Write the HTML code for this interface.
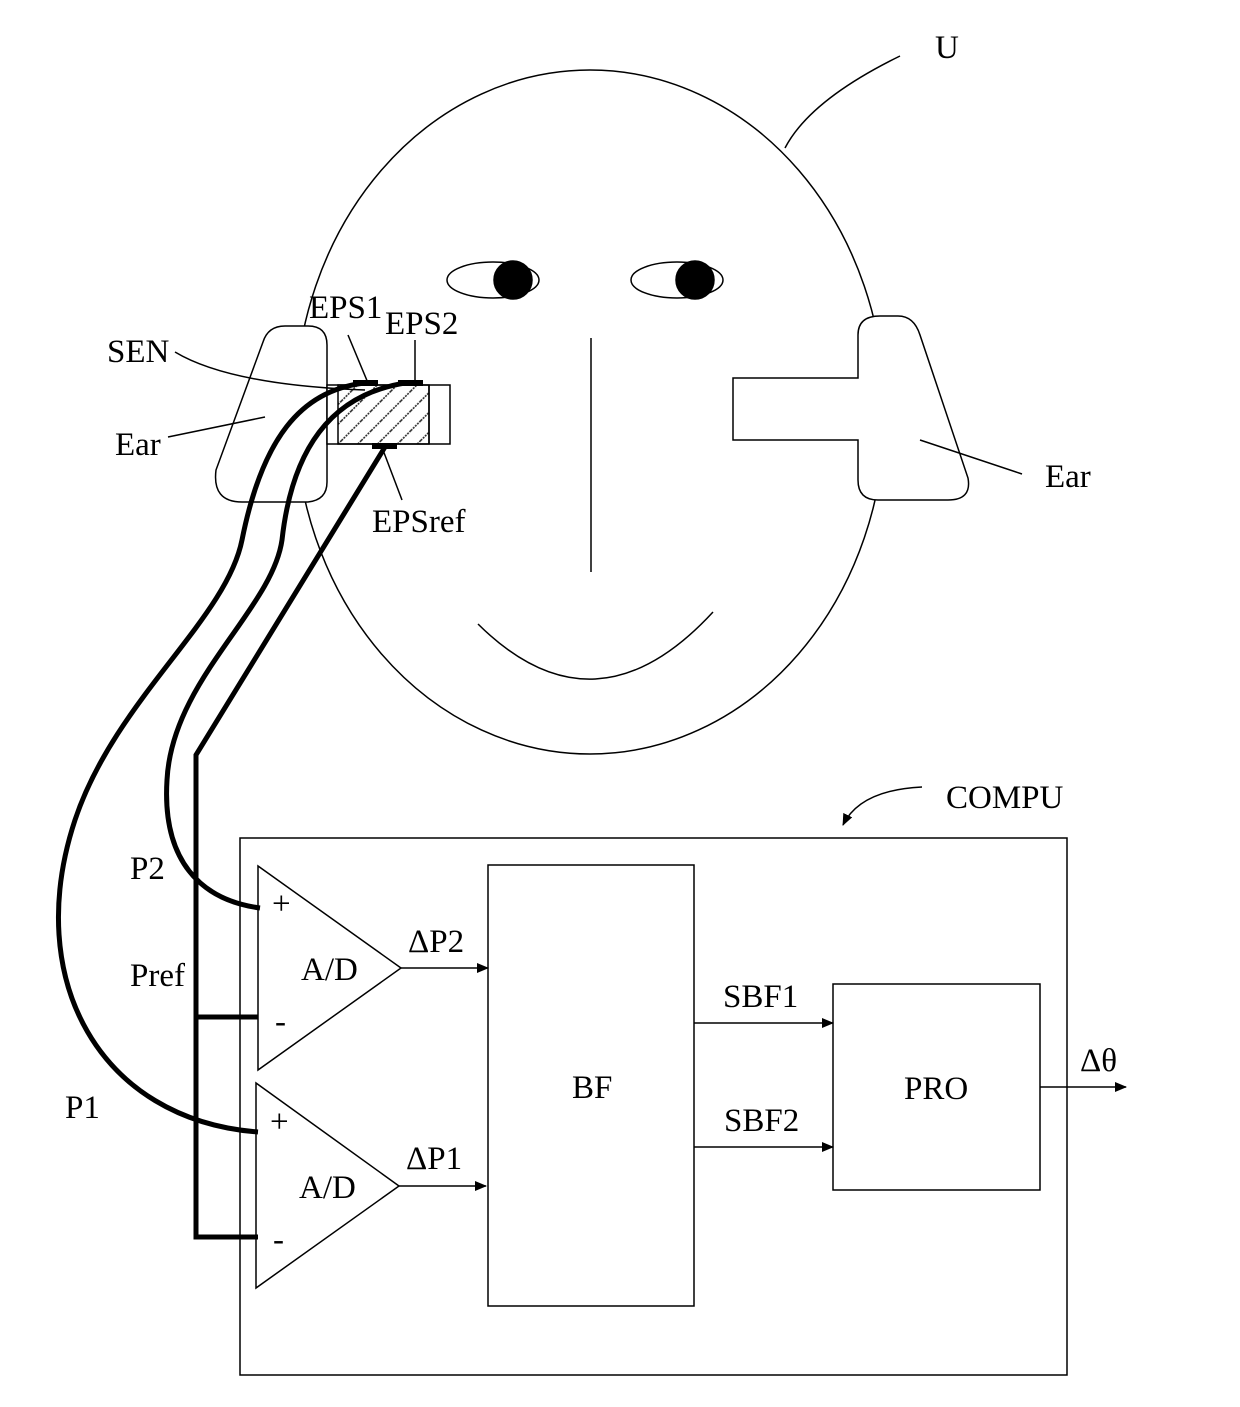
<!DOCTYPE html>
<html><head><meta charset="utf-8"><style>html,body{margin:0;padding:0;background:#fff}svg{display:block}text{font-family:"Liberation Serif",serif;font-size:33px;fill:#000}</style></head>
<body>
<svg width="1240" height="1407" viewBox="0 0 1240 1407" xmlns="http://www.w3.org/2000/svg">
<defs>
<marker id="ar" markerWidth="12" markerHeight="10" refX="11" refY="5" orient="auto" markerUnits="userSpaceOnUse"><path d="M0,0 L12,5 L0,10 Z" fill="#000"/></marker>
<pattern id="hatch" width="14" height="14" patternUnits="userSpaceOnUse" patternTransform="rotate(-45)"><line x1="0" y1="7" x2="14" y2="7" stroke="#222" stroke-width="1.6" stroke-dasharray="2,1"/></pattern>
</defs>
<g fill="none" stroke="#000" stroke-width="1.5">
<ellipse cx="590" cy="412" rx="295" ry="342" fill="#fff"/>
<ellipse cx="493" cy="280" rx="46" ry="18"/>
<circle cx="513" cy="280" r="19" fill="#000"/>
<ellipse cx="677" cy="280" rx="46" ry="18"/>
<circle cx="695" cy="280" r="19" fill="#000"/>
<line x1="591" y1="338" x2="591" y2="572"/>
<path d="M478 624 Q595 740 713 612"/>
<path d="M900 56 Q810 100 785 148"/>
<path d="M327 385 L327 345 Q327 326 308 326 L285 326 Q268 326 263 342 L216 470 Q212 502 242 502 L308 502 Q327 500 327 482 L327 444 Z" fill="#fff"/>
<rect x="327" y="385" width="123" height="59" fill="#fff"/>
<rect x="338" y="385" width="91" height="59" fill="url(#hatch)"/>
<line x1="429" y1="385" x2="429" y2="444"/>
<path d="M858 378 L858 335 Q858 316 880 316 L898 316 Q914 316 920 335 L968 478 Q972 500 948 500 L878 500 Q858 500 858 480 L858 440 L733 440 L733 378 Z" fill="#fff"/>
<path d="M175 352 Q230 385 365 390"/>
<line x1="168" y1="437" x2="265" y2="417"/>
<line x1="348" y1="335" x2="368" y2="383"/>
<line x1="415" y1="340" x2="415" y2="383"/>
<line x1="383" y1="450" x2="402" y2="500"/>
<line x1="920" y1="440" x2="1022" y2="474"/>
<rect x="240" y="838" width="827" height="537"/>
<path d="M922 787 Q860 790 843 825" marker-end="url(#ar)"/>
<path d="M258 866 L258 1070 L401 968 Z"/>
<path d="M256 1083 L256 1288 L399 1186 Z"/>
<rect x="488" y="865" width="206" height="441"/>
<rect x="833" y="984" width="207" height="206"/>
<line x1="401" y1="968" x2="488" y2="968" marker-end="url(#ar)"/>
<line x1="399" y1="1186" x2="486" y2="1186" marker-end="url(#ar)"/>
<line x1="694" y1="1023" x2="833" y2="1023" marker-end="url(#ar)"/>
<line x1="694" y1="1147" x2="833" y2="1147" marker-end="url(#ar)"/>
<line x1="1040" y1="1087" x2="1126" y2="1087" marker-end="url(#ar)"/>
</g>
<g fill="none" stroke="#000" stroke-width="5">
<path d="M365 383 C300 390 262 440 242 540 C226 620 115 700 75 820 C22 980 100 1120 258 1132"/>
<path d="M405 383 C330 395 292 450 282 540 C272 610 172 680 167 780 C162 860 200 900 260 908"/>
<path d="M385 447 L196 755 L196 1237 L258 1237 M196 1017 L258 1017"/>
</g>
<g fill="#000">
<rect x="353" y="380" width="25" height="6"/>
<rect x="398" y="380" width="25" height="6"/>
<rect x="372" y="443" width="25" height="6"/>
</g>
<text x="935" y="58">U</text>
<text x="107" y="362">SEN</text>
<text x="115" y="455">Ear</text>
<text x="309" y="318">EPS1</text>
<text x="385" y="334">EPS2</text>
<text x="372" y="532">EPSref</text>
<text x="1045" y="487">Ear</text>
<text x="946" y="808">COMPU</text>
<text x="130" y="879">P2</text>
<text x="130" y="986">Pref</text>
<text x="65" y="1118">P1</text>
<text x="272" y="914" font-size="26">+</text>
<text x="275" y="1032" font-size="26">-</text>
<text x="270" y="1132" font-size="26">+</text>
<text x="273" y="1250" font-size="26">-</text>
<text x="301" y="980">A/D</text>
<text x="299" y="1198">A/D</text>
<text x="408" y="952">ΔP2</text>
<text x="406" y="1169">ΔP1</text>
<text x="572" y="1098">BF</text>
<text x="723" y="1007">SBF1</text>
<text x="724" y="1131">SBF2</text>
<text x="904" y="1099">PRO</text>
<text x="1080" y="1071">Δθ</text>
</svg>
</body></html>
